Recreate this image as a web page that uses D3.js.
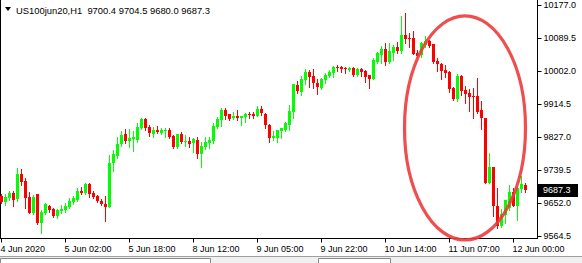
<!DOCTYPE html>
<html>
<head>
<meta charset="utf-8">
<script src="https://cdn.jsdelivr.net/npm/d3@7"></script>
<style>
  html, body { margin: 0; padding: 0; background: #fff; }
  svg text { font-family: "Liberation Sans", Arial, sans-serif; font-size: 9px; }
</style>
</head>
<body>
<div id="chart"></div>
<script>
const symbol = "US100jun20,H1";

// hourly candles, 4 Jun 2020 10:00 -> 12 Jun 2020 03:00
const opens = [9670,9655,9665,9678,9663,9729,9710,9668,9625,9676,9599,9625,9644,9636,9617,9631,9633,9641,9655,9660,
  9684,9678,9702,9678,9670,9657,9649,9641,9758,9776,9808,9835,9816,9821,9819,9851,9874,9853,9835,9845,
  9837,9843,9845,9829,9800,9835,9814,9816,9811,9819,9782,9800,9811,9816,9853,9872,9898,9888,9877,9882,
  9877,9880,9888,9888,9882,9901,9888,9859,9824,9824,9843,9845,9859,9893,9965,9946,9978,9999,9989,9970,
  9957,9978,9989,9997,10012,10012,10010,10004,10010,9991,10007,10002,9991,9981,10026,10044,10060,10026,10050,10066,
  10055,10097,10089,10089,10050,10044,10071,10082,10074,10028,10020,10004,9999,9957,9928,9989,9951,9943,9935,9935,
  9898,9877,9705,9747,9644,9591,9620,9639,9681,9644,9689,9700.4];
const highs = [9676,9676,9684,9684,9745,9742,9718,9681,9673,9676,9633,9652,9646,9639,9636,9646,9652,9665,9670,9692,
  9694,9705,9705,9684,9673,9663,9670,9779,9792,9827,9843,9848,9848,9843,9864,9877,9877,9859,9853,9856,
  9851,9851,9851,9832,9835,9840,9832,9827,9824,9827,9814,9827,9827,9864,9880,9904,9904,9888,9893,9898,
  9882,9890,9893,9893,9909,9909,9890,9861,9843,9845,9851,9867,9912,9967,9975,9989,10007,10004,10007,9981,
  9983,9997,10004,10015,10018,10015,10012,10012,10012,10010,10010,10004,9991,10036,10052,10068,10076,10076,10071,10079,
  10148,10156,10103,10108,10058,10079,10095,10084,10074,10036,10023,10018,10002,9959,9994,9991,9962,9954,9957,9983,
  9922,9877,9784,9747,9692,9636,9660,9700,9692,9694,9723,9704.5];
const lows = [9652,9646,9660,9644,9657,9700,9639,9625,9623,9596,9572,9623,9628,9615,9612,9625,9628,9639,9649,9657,
  9676,9676,9668,9665,9655,9646,9604,9641,9737,9771,9803,9811,9800,9790,9814,9848,9845,9829,9827,9837,
  9835,9827,9824,9798,9798,9811,9803,9800,9787,9771,9747,9795,9798,9811,9851,9856,9874,9872,9874,9872,
  9859,9867,9877,9877,9882,9885,9851,9814,9819,9814,9824,9843,9845,9877,9943,9938,9967,9959,9957,9941,
  9954,9970,9986,9986,10002,9999,9997,10002,9989,9989,9989,9973,9957,9981,10023,10023,10018,10023,10031,10050,
  10050,10076,10066,10047,10039,10039,10066,10066,10023,10002,9981,9986,9946,9925,9922,9938,9917,9896,9877,9890,
  9848,9705,9705,9617,9586,9588,9599,9633,9644,9607,9681,9680.0];
const closes = [9655,9668,9678,9660,9729,9708,9665,9625,9668,9599,9628,9649,9633,9617,9633,9636,9644,9657,9665,9684,
  9678,9702,9676,9668,9657,9649,9641,9758,9782,9808,9832,9816,9824,9827,9853,9874,9851,9837,9845,9840,
  9845,9845,9827,9800,9835,9814,9816,9808,9821,9782,9803,9814,9819,9856,9874,9898,9882,9874,9882,9877,
  9882,9888,9885,9882,9901,9890,9859,9824,9829,9845,9851,9864,9896,9967,9949,9981,9999,9986,9970,9959,
  9981,9991,9999,10012,10010,10007,10007,10010,9991,10007,9999,9986,9981,10031,10050,10060,10026,10055,10066,10055,
  10097,10087,10087,10047,10042,10076,10082,10068,10026,10020,10002,9997,9954,9928,9989,9949,9941,9933,9933,9893,
  9877,9705,9747,9644,9591,9623,9660,9681,9644,9692,9702,9687.3];

const timeLabels = ["4 Jun 2020","5 Jun 02:00","5 Jun 18:00","8 Jun 12:00","9 Jun 05:00",
  "9 Jun 22:00","10 Jun 14:00","11 Jun 07:00","12 Jun 00:00"];
const labelEvery = 16;
const priceTicks = [10177.0, 10089.5, 10002.0, 9914.5, 9827.0, 9739.5, 9652.0, 9564.5];

// hand-drawn circle around the sell-off, in bar / price units
const highlight = { fromBar: 100.75, toBar: 131, low: 9554, high: 10148 };

const W = 582, H = 263;
const plotRight = 537, plotBottom = 238;
const bull = "#00ff00", bear = "#ff0000";

const svg = d3.select("#chart").append("svg").attr("width", W).attr("height", H)
  .style("display", "block");

const n = opens.length;
const x = d3.scaleBand().domain(d3.range(n)).range([-0.5, -0.5 + 4 * n]);
const y = d3.scaleLinear().domain([9564.5, 10177]).range([236, 5]);
const cx = i => x(i) + x.bandwidth() / 2;

// frame
svg.append("line").attr("x1", 0.5).attr("x2", 0.5).attr("y1", 0).attr("y2", plotBottom + 1)
  .attr("stroke", "#000");
svg.append("line").attr("x1", plotRight + 0.5).attr("x2", plotRight + 0.5).attr("y1", 0).attr("y2", plotBottom + 1)
  .attr("stroke", "#000");
svg.append("line").attr("x1", 0).attr("x2", plotRight + 1).attr("y1", plotBottom + 0.5).attr("y2", plotBottom + 0.5)
  .attr("stroke", "#000");

// candles
const candles = svg.append("g").selectAll("g").data(d3.range(n)).join("g")
  .attr("fill", i => closes[i] >= opens[i] ? bull : bear)
  .attr("stroke", i => closes[i] >= opens[i] ? bull : bear);
candles.append("line")
  .attr("x1", cx).attr("x2", cx)
  .attr("y1", i => Math.round(y(highs[i]))).attr("y2", i => Math.round(y(lows[i])) + 1)
  .attr("stroke-width", 1);
candles.append("rect")
  .attr("stroke", "none")
  .attr("x", i => cx(i) - 1.5).attr("width", 3)
  .attr("y", i => Math.round(y(Math.max(opens[i], closes[i]))))
  .attr("height", i => Math.max(1, Math.round(y(Math.min(opens[i], closes[i]))) - Math.round(y(Math.max(opens[i], closes[i])))));

// price axis
const yAxis = svg.append("g").attr("transform", `translate(${plotRight + 0.5},0)`)
  .call(d3.axisRight(y).tickValues(priceTicks).tickSize(4).tickSizeOuter(0).tickPadding(2)
    .tickFormat(d3.format(".1f")));
yAxis.select(".domain").remove();
yAxis.selectAll("line").attr("stroke", "#000");
yAxis.selectAll("text").attr("fill", "#000").style("font-size", "9px").style("font-family", "Liberation Sans, Arial, sans-serif");

// time axis
const tickIdx = timeLabels.map((_, k) => k * labelEvery);
const xAxis = svg.append("g").attr("transform", `translate(0,${plotBottom + 0.5})`)
  .call(d3.axisBottom(x).tickValues(tickIdx).tickSize(4).tickSizeOuter(0).tickPadding(3)
    .tickFormat((d, k) => timeLabels[k]));
xAxis.select(".domain").remove();
xAxis.selectAll("line").attr("stroke", "#000");
xAxis.selectAll("text").attr("fill", "#000").attr("text-anchor", "start").attr("x", -1)
  .style("font-size", "9px").style("font-family", "Liberation Sans, Arial, sans-serif");

// current price marker
const last = closes[n - 1];
const ly = Math.round(y(last));
svg.append("rect").attr("x", plotRight + 1).attr("y", ly - 6).attr("width", 40).attr("height", 13).attr("fill", "#000");
svg.append("text").attr("x", plotRight + 6).attr("y", ly).attr("dy", "0.35em").attr("fill", "#fff")
  .text(d3.format(".1f")(last));

// header
svg.append("path").attr("d", "M5,7 L11,7 L8,11 Z").attr("fill", "#000");
const fmt = d3.format(".1f");
svg.append("text").attr("x", 16).attr("y", 14).attr("fill", "#000").attr("xml:space", "preserve")
  .style("white-space", "pre").style("font-size", "9.4px")
  .text(`${symbol}  ${fmt(opens[n - 1])} ${fmt(highs[n - 1])} ${fmt(lows[n - 1])} ${fmt(closes[n - 1])}`);

// highlight ellipse
const ex0 = cx(0) + highlight.fromBar * 4, ex1 = cx(0) + highlight.toBar * 4;
svg.append("ellipse")
  .attr("cx", (ex0 + ex1) / 2).attr("cy", (y(highlight.low) + y(highlight.high)) / 2)
  .attr("rx", (ex1 - ex0) / 2).attr("ry", (y(highlight.low) - y(highlight.high)) / 2)
  .attr("fill", "none").attr("stroke", "#ee3b3b").attr("stroke-opacity", 0.9).attr("stroke-width", 3.2);

// tab strip at the bottom
svg.append("rect").attr("x", 0).attr("y", 256).attr("width", W).attr("height", 7).attr("fill", "#f0f0f0");
svg.append("line").attr("x1", 0).attr("x2", W).attr("y1", 256.5).attr("y2", 256.5).attr("stroke", "#a0a0a0");
[[0, 210], [318, 390]].forEach(([a, b]) => {
  svg.append("path").attr("d", `M${a + 0.5},263 V258.5 H${b + 0.5} V263`).attr("fill", "#fff").attr("stroke", "#888");
});
</script>
</body>
</html>
